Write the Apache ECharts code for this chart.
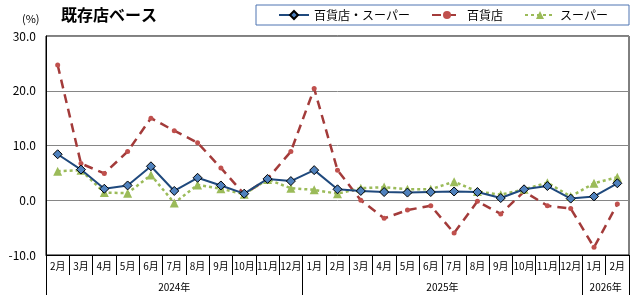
<!DOCTYPE html>
<html lang="ja">
<head>
    <meta charset="UTF-8">
    <title>既存店ベース</title>
    <script src="https://cdn.jsdelivr.net/npm/echarts@6/dist/echarts.min.js"></script>
    <style>
        body { margin: 0; background: #ffffff; }
    </style>
</head>
<body>
    <div id="chart" style="width: 640px; height: 300px;"></div>

    <script>
        // data
        const months = ['2月','3月','4月','5月','6月','7月','8月','9月','10月','11月','12月',
                        '1月','2月','3月','4月','5月','6月','7月','8月','9月','10月','11月','12月',
                        '1月','2月'];
        const yearLabels = ['2024年', '2025年', '2026年'];
        const yearSpans = [11, 12, 2]; // months in each year group

        const total = [8.4, 5.6, 2.1, 2.7, 6.2, 1.7, 4.1, 2.7, 1.2, 3.9, 3.5,
                       5.5, 2.0, 1.7, 1.5, 1.4, 1.5, 1.6, 1.5, 0.4, 2.0, 2.6, 0.3,
                       0.7, 3.1];
        const dept = [24.7, 6.7, 4.9, 8.9, 15.0, 12.7, 10.5, 5.9, 1.1, 3.9, 8.9,
                      20.4, 5.5, 0.0, -3.3, -1.8, -1.0, -6.0, -0.2, -2.5, 1.6, -1.0, -1.5,
                      -8.6, -0.7];
        const superm = [5.3, 5.5, 1.4, 1.3, 4.6, -0.5, 2.8, 2.1, 1.1, 3.8, 2.2,
                        1.9, 1.2, 2.2, 2.4, 2.0, 2.0, 3.4, 1.6, 1.0, 2.0, 3.2, 0.7,
                        3.1, 4.2];

        // half-month slots for the year row so labels can sit at group centres
        const yearSlots = new Array(months.length * 2 + 1).fill('');
        const yearTicks = [0];
        let start = 0;
        yearSpans.forEach((n, i) => {
            yearSlots[start * 2 + n] = yearLabels[i];
            start += n;
            yearTicks.push(start * 2);
        });

        const chart = echarts.init(document.getElementById('chart'));
        const font = '"Noto Sans CJK JP", sans-serif';

        const option = {
            textStyle: { fontFamily: font },
            title: [
                { text: '(%)', left: 17, top: 8, textStyle: { fontSize: 11, fontWeight: 'normal', color: '#000', fontFamily: font } },
                { text: '既存店ベース', left: 56, top: 2, textStyle: { fontSize: 16, fontWeight: 'bold', color: '#000', fontFamily: font } }
            ],
            legend: {
                left: 256,
                top: 5,
                padding: [4, 21, 4, 22],
                itemGap: 21,
                itemWidth: 30,
                itemHeight: 10,
                borderColor: '#4F74B2',
                borderWidth: 1,
                textStyle: { fontSize: 12, color: '#000', fontFamily: font },
                data: ['百貨店・スーパー', '百貨店', 'スーパー']
            },
            grid: {
                left: 46, right: 11, top: 36, bottom: 45,
                show: true,
                borderColor: '#000',
                borderWidth: 1
            },
            xAxis: [{
                type: 'category',
                data: months,
                boundaryGap: true,
                axisLine: { onZero: false, lineStyle: { color: '#000' } },
                axisTick: { show: true, interval: 0, length: 20, lineStyle: { color: '#000' } },
                axisLabel: { interval: 0, fontSize: 10, color: '#000', margin: 6 }
            }, {
                type: 'category',
                data: yearSlots,
                position: 'bottom',
                offset: 20,
                boundaryGap: false,
                axisLine: { show: false, onZero: false },
                axisTick: {
                    show: true,
                    length: 20,
                    interval: (i) => yearTicks.includes(i),
                    lineStyle: { color: '#000' }
                },
                axisLabel: { interval: 0, fontSize: 10, color: '#000', margin: 7 }
            }],
            yAxis: {
                type: 'value',
                min: -10,
                max: 30,
                interval: 10,
                axisLine: { show: true, lineStyle: { color: '#000' } },
                axisTick: { show: false },
                axisLabel: {
                    color: '#000',
                    fontSize: 12,
                    margin: 10,
                    formatter: (v) => v.toFixed(1)
                },
                splitLine: { lineStyle: { color: '#868686', width: 1 } }
            },
            series: [{
                name: '百貨店',
                type: 'line',
                data: dept,
                symbol: 'circle',
                symbolSize: 5,
                itemStyle: { color: '#C0504D' },
                lineStyle: { color: '#A33B3A', width: 2.5, type: [9, 6] },
                z: 2
            }, {
                name: 'スーパー',
                type: 'line',
                data: superm,
                symbol: 'triangle',
                symbolSize: 9,
                itemStyle: { color: '#9BBB59' },
                lineStyle: { color: '#9BBB59', width: 2.5, type: [3, 3] },
                z: 3
            }, {
                name: '百貨店・スーパー',
                type: 'line',
                data: total,
                symbol: 'diamond',
                symbolSize: 9,
                itemStyle: { color: '#4F81BD', borderColor: '#000', borderWidth: 1 },
                lineStyle: { color: '#1F497D', width: 2 },
                z: 4
            }],
            animation: false
        };

        chart.setOption(option);
    </script>
</body>
</html>
